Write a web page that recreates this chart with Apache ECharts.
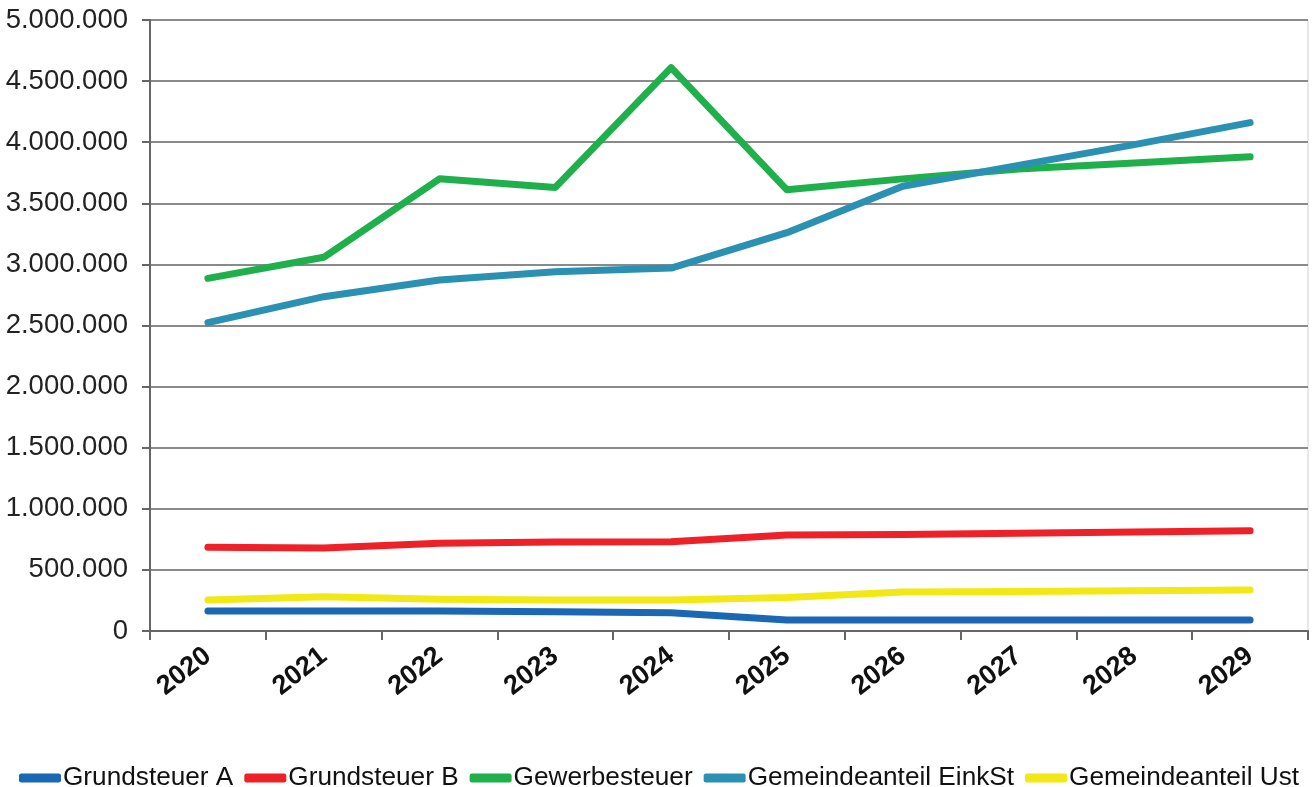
<!DOCTYPE html>
<html>
<head>
<meta charset="utf-8">
<script src="https://cdn.jsdelivr.net/npm/echarts@6/dist/echarts.min.js"></script>
<style>
html,body{margin:0;padding:0;background:#fff;}
#chart{width:1314px;height:787px;}
</style>
</head>
<body>
<div id="chart"></div>
<script>
const categories = ['2020','2021','2022','2023','2024','2025','2026','2027','2028','2029'];
const grundsteuerA = [164000, 164000, 163000, 158000, 150000, 90000, 90000, 90000, 90000, 90000];
const grundsteuerB = [685000, 680000, 718000, 728000, 730000, 786000, 790000, 800000, 810000, 820000];
const gewerbesteuer = [2886000, 3058000, 3700000, 3630000, 4610000, 3610000, 3700000, 3780000, 3830000, 3880000];
const einkSt = [2523000, 2736000, 2872000, 2940000, 2970000, 3260000, 3640000, 3810000, 3980000, 4160000];
const ust = [254000, 281000, 259000, 254000, 254000, 275000, 320000, 324000, 330000, 335000];
const seriesNames = ['Grundsteuer A','Grundsteuer B','Gewerbesteuer','Gemeindeanteil EinkSt','Gemeindeanteil Ust'];
const colors = ['#1a67b3','#ee2128','#1fb04c','#2a91b3','#f2e816'];

function fmt(v){
  return String(Math.round(v)).replace(/\B(?=(\d{3})+(?!\d))/g,'.');
}

const chart = echarts.init(document.getElementById('chart'));
const dataSets = [grundsteuerA, grundsteuerB, gewerbesteuer, einkSt, ust];
chart.setOption({
  animation:false,
  backgroundColor:'#fff',
  color: colors,
  grid:{left:150,right:6,top:20,bottom:156,show:true,borderColor:'#d0d0d0',borderWidth:1},
  legend:{
    left:14, top:760, width:1300,
    itemWidth:42, itemHeight:9, itemGap:11,
    icon:'roundRect',
    textStyle:{fontFamily:'Liberation Sans, Arial, sans-serif',fontSize:26.2,color:'#111',padding:[0,0,0,-3]},
    data: seriesNames
  },
  xAxis:{
    type:'category',
    data:categories,
    boundaryGap:true,
    axisLine:{lineStyle:{color:'#666',width:2}},
    axisTick:{show:true,length:9,lineStyle:{color:'#666',width:2}},
    axisLabel:{rotate:38,margin:22,fontFamily:'Liberation Sans, Arial, sans-serif',fontWeight:'bold',fontSize:27,color:'#111'}
  },
  yAxis:{
    type:'value',
    min:0,max:5000000,interval:500000,
    axisLine:{show:true,lineStyle:{color:'#666',width:2}},
    axisTick:{show:true,length:8,lineStyle:{color:'#666',width:2}},
    splitLine:{lineStyle:{color:'#8a8a8a',width:2}},
    axisLabel:{margin:22,fontFamily:'Liberation Sans, Arial, sans-serif',fontSize:27.5,color:'#222',formatter:fmt}
  },
  series: seriesNames.map((n,i)=>({
    name:n,
    type:'line',
    data:dataSets[i],
    showSymbol:false,
    symbol:'none',
    lineStyle:{width:7,color:colors[i],cap:'round',join:'round'},
    itemStyle:{color:colors[i]}
  }))
});
</script>
</body>
</html>
